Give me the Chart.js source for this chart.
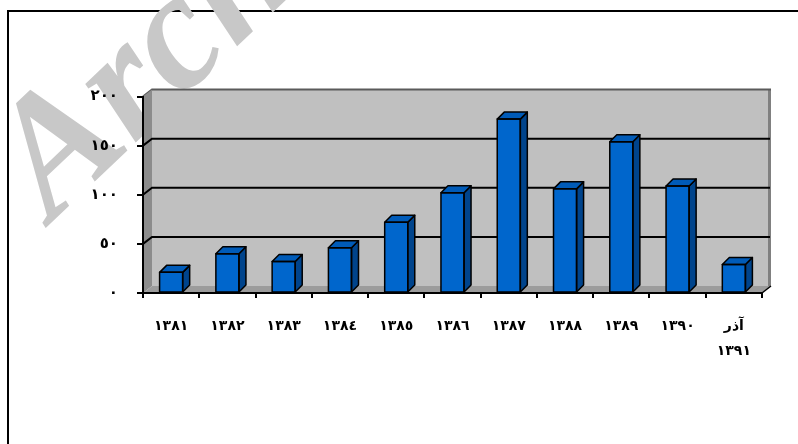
<!DOCTYPE html>
<html>
<head>
<meta charset="utf-8">
<script src="https://cdn.jsdelivr.net/npm/chart.js@4.4.1/dist/chart.umd.min.js"></script>
<style>
html,body{margin:0;padding:0;background:#fff;}
canvas{display:block;}
</style>
</head>
<body>
<canvas id="c" width="798" height="444"></canvas>
<script>
// ---- data ----
const categories = ['١٣٨١','١٣٨٢','١٣٨٣','١٣٨٤','١٣٨٥','١٣٨٦','١٣٨٧','١٣٨٨','١٣٨٩','١٣٩٠',['آذر','١٣٩١']];
const values = [21, 40, 32, 46, 72, 102, 177, 106, 154, 109, 29];
const yTickValues = [0, 50, 100, 150, 200];
const yTickLabels = ['٠','٥٠','١٠٠','١٥٠','٢٠٠'];
const watermarkText = 'Archive of SID';

// ---- style ----
const DX = 9, DY = -7;      // wall depth offset
const BD = 7;               // bar depth offset
const FONT = '"DejaVu Sans"';

const scene = {
  id: 'scene',
  beforeDraw(chart) {
    const ctx = chart.ctx;
    const a = chart.chartArea;
    const y = chart.scales.y;
    ctx.save();
    ctx.fillStyle = '#fff';
    ctx.fillRect(0, 0, chart.width, chart.height);
    // frame (top and left visible)
    ctx.fillStyle = '#000';
    ctx.fillRect(7, 10, chart.width - 7, 2);
    ctx.fillRect(7, 10, 2, chart.height - 10);
    // watermark
    ctx.save();
    ctx.translate(52, 222);
    ctx.rotate(-0.76);
    ctx.font = 'italic bold 168px "Liberation Serif"';
    ctx.fillStyle = '#c8c8c8';
    ctx.textBaseline = 'alphabetic';
    ctx.fillText(watermarkText, 0, 0);
    ctx.restore();

    const L = a.left, R = a.right, T = a.top, B = a.bottom;
    // back wall
    ctx.fillStyle = '#c0c0c0';
    ctx.fillRect(L + DX, T + DY, R - L, B - T);
    // right dark strip of back wall
    ctx.fillStyle = '#808080';
    ctx.fillRect(R + DX - 3, T + DY, 3, B - T);
    // top edge of back wall
    ctx.strokeStyle = '#5a5a5a';
    ctx.lineWidth = 2;
    ctx.beginPath();
    ctx.moveTo(L, T); ctx.lineTo(L + DX, T + DY); ctx.lineTo(R + DX, T + DY);
    ctx.stroke();
    // left wall
    ctx.fillStyle = '#8c8c8c';
    ctx.beginPath();
    ctx.moveTo(L, T); ctx.lineTo(L + DX, T + DY); ctx.lineTo(L + DX, B + DY); ctx.lineTo(L, B);
    ctx.closePath(); ctx.fill();
    // floor
    ctx.fillStyle = '#9c9c9c';
    ctx.beginPath();
    ctx.moveTo(L, B); ctx.lineTo(L + DX, B + DY); ctx.lineTo(R + DX, B + DY); ctx.lineTo(R, B);
    ctx.closePath(); ctx.fill();
    ctx.strokeStyle = '#000';
    ctx.lineWidth = 1.5;
    ctx.beginPath();
    ctx.moveTo(R, B); ctx.lineTo(R + DX, B + DY);
    ctx.stroke();
    // gridlines on walls
    ctx.strokeStyle = '#000';
    ctx.lineWidth = 2;
    yTickValues.forEach(v => {
      if (v === 0 || v === y.max) return;
      const py = y.getPixelForValue(v);
      ctx.beginPath();
      ctx.moveTo(L, py); ctx.lineTo(L + DX, py + DY); ctx.lineTo(R + DX - 1, py + DY);
      ctx.stroke();
    });
    ctx.restore();
  },
  afterDatasetsDraw(chart) {
    const ctx = chart.ctx;
    const meta = chart.getDatasetMeta(0);
    ctx.save();
    ctx.lineWidth = 1.5;
    ctx.strokeStyle = '#000';
    ctx.lineJoin = 'round';
    meta.data.forEach(bar => {
      const p = bar.getProps(['x','y','base','width'], true);
      const l = p.x - p.width / 2, r = p.x + p.width / 2, t = p.y, b = p.base;
      // side
      ctx.fillStyle = '#00448c';
      ctx.beginPath();
      ctx.moveTo(r, t); ctx.lineTo(r + BD, t - BD); ctx.lineTo(r + BD, b - BD); ctx.lineTo(r, b);
      ctx.closePath(); ctx.fill(); ctx.stroke();
      // top
      ctx.fillStyle = '#005bb8';
      ctx.beginPath();
      ctx.moveTo(l, t); ctx.lineTo(l + BD, t - BD); ctx.lineTo(r + BD, t - BD); ctx.lineTo(r, t);
      ctx.closePath(); ctx.fill(); ctx.stroke();
      // front outline
      ctx.strokeRect(l, t, r - l, b - t);
    });
    ctx.restore();
  }
};

new Chart(document.getElementById('c'), {
  type: 'bar',
  data: {
    labels: categories,
    datasets: [{
      data: values,
      backgroundColor: '#0066cc',
      borderWidth: 0,
      categoryPercentage: 1,
      barPercentage: 0.41
    }]
  },
  options: {
    responsive: false,
    devicePixelRatio: 1,
    animation: false,
    layout: { padding: { left: 0, top: 96.5, right: 36, bottom: 0 } },
    plugins: { legend: { display: false }, tooltip: { enabled: false } },
    scales: {
      x: {
        offset: true,
        grid: { offset: true, drawOnChartArea: false, tickLength: 5, color: '#000', lineWidth: 2 },
        border: { display: true, color: '#000', width: 2 },
        ticks: {
          autoSkip: false, maxRotation: 0, minRotation: 0, padding: 16,
          color: '#000', font: { family: FONT, size: 14, weight: 'bold', lineHeight: 1.78 }
        },
        afterFit(s) { s.height = 151; }
      },
      y: {
        min: 0, max: 200,
        grid: { drawOnChartArea: false, tickLength: 6, color: '#000', lineWidth: 2 },
        border: { display: true, color: '#000', width: 2 },
        ticks: {
          stepSize: 50, padding: 19, color: '#000',
          font: { family: FONT, size: 15, weight: 'bold' },
          callback: (v) => yTickLabels[yTickValues.indexOf(v)]
        },
        afterFit(s) { s.width = 143; }
      }
    }
  },
  plugins: [scene]
});
</script>
</body>
</html>
